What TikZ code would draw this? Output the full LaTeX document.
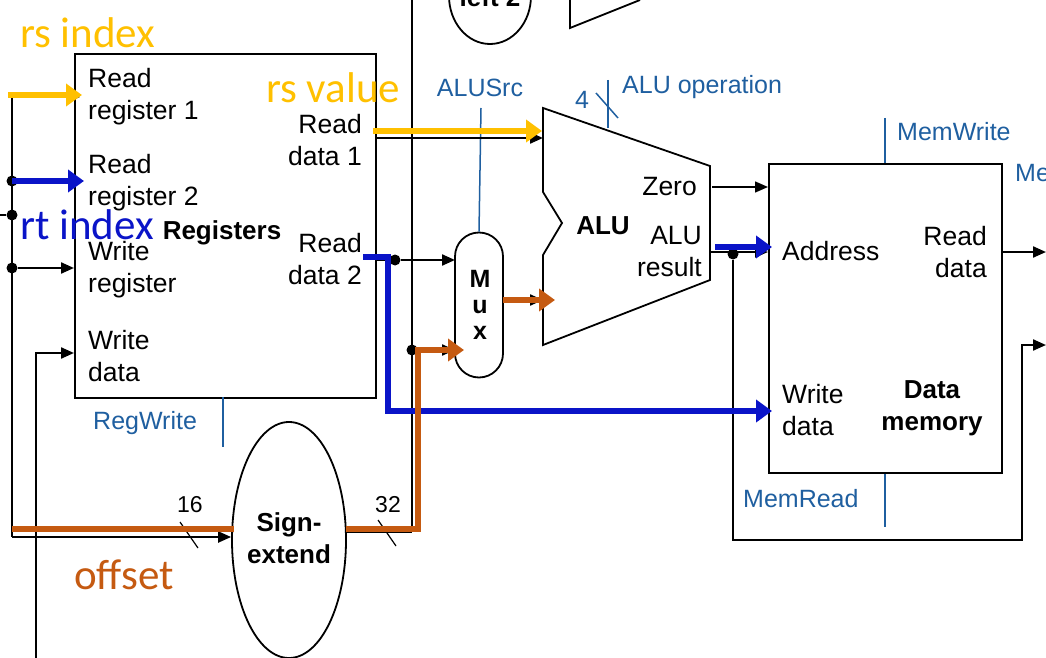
\documentclass[tikz,border=0pt]{standalone}
\usepackage{fontspec}
\setmainfont{Liberation Sans}
\newfontfamily\anno{Carlito}
\usetikzlibrary{arrows.meta,shapes.geometric}
\definecolor{yel}{HTML}{FFC000}
\definecolor{blu}{HTML}{0A14C8}
\definecolor{ora}{HTML}{C55A11}
\definecolor{ctl}{HTML}{1F5FA0}
\begin{document}
\begin{tikzpicture}[x=1pt,y=-1pt,
  txt/.style={font=\fontsize{26.5}{32}\selectfont,inner sep=0pt,align=left},
  txtr/.style={txt,align=right},
  bold/.style={font=\fontsize{26}{32}\selectfont\bfseries,inner sep=0pt,align=center},
  ctlt/.style={font=\fontsize{25}{28}\selectfont,text=ctl,inner sep=0pt},
  ann/.style={font=\anno\fontsize{43}{46}\selectfont,inner sep=0pt},
  wire/.style={line width=2.2pt},
  arr/.style={wire,-{Triangle[length=13pt,width=11pt]}},
  fat/.style={line width=6pt,-{Triangle[length=16pt,width=22pt]}},
  fatl/.style={line width=6pt},
  cline/.style={ctl,line width=1.5pt},
  dot/.style={circle,fill,inner sep=0pt,minimum size=11pt},
  box/.style={draw,line width=2pt}]
\useasboundingbox (0,0) rectangle (1046,658);
% top partial shapes
\node[ellipse,draw,line width=1.8pt,minimum width=82pt,minimum height=96pt] (sh) at (490,-4) {};
\node[bold] (shl) at (490,-3) {left 2};
\coordinate (addA) at (570,0);
\coordinate (addB) at (570,28);
\coordinate (addC) at (640,0);
\draw[line width=1.8pt] (addA) -- (addB) -- (addC);
% registers
\node[box,minimum width=301pt,minimum height=344pt,anchor=north west] (reg) at (74,53) {};
\node[txt,anchor=west] (rr1) at (88,97) {Read\\register 1};
\node[txt,anchor=west] (rr2) at (88,183) {Read\\register 2};
\node[txt,anchor=west] (wr) at (88,270) {Write\\register};
\node[txt,anchor=west] (wd) at (88,356) {Write\\data};
\node[bold] (regt) at (222,233) {Registers};
\node[txtr,anchor=east] (rd1) at (362,140) {Read\\data 1};
\node[txtr,anchor=east] (rd2) at (362,259) {Read\\data 2};
\node[ctlt,anchor=west] (regw) at (93,423) {RegWrite};
\coordinate (rwT) at (223,397); \coordinate (rwB) at (223,447);
\draw[cline] (rwT) -- (rwB);
% left bus
\coordinate (busT) at (12,97); \coordinate (busB) at (12,537);
\draw[wire] (busT) -- (busB);
\node[dot] (d1) at (12,181) {};
\node[dot] (d2) at (12,215) {};
\node[dot] (d3) at (12,268) {};
\coordinate (lin) at (0,215);
\draw[wire] (lin) -- (d2);
\coordinate (r1in) at (12,97); \coordinate (r1e) at (80,97);
\draw[arr] (r1in) -- (r1e);
\coordinate (wrE) at (74,268);
\draw[arr] (d3) -- (wrE);
\coordinate (wdS) at (36,658); \coordinate (wdK) at (36,353); \coordinate (wdE) at (74,353);
\draw[arr] (wdS) -- (wdK) -- (wdE);
% sign extend
\node[ellipse,draw,line width=1.8pt,minimum width=114pt,minimum height=236pt] (se) at (289,540) {};
\node[bold] (set) at (289,538) {Sign-\\extend};
\coordinate (seIn) at (12,537);
\draw[arr] (seIn) -- (se.west |- 0,537);
\coordinate (t16a) at (180,522); \coordinate (t16b) at (198,548);
\draw[line width=1.2pt] (t16a) -- (t16b);
\node[font=\fontsize{23}{26}\selectfont,inner sep=0pt] (n16) at (190,505) {16};
\coordinate (s32) at (345,532); \coordinate (k32) at (412,532);
\draw[wire] (s32) -- (k32);
\coordinate (t32a) at (378,520); \coordinate (t32b) at (396,546);
\draw[line width=1.2pt] (t32a) -- (t32b);
\node[font=\fontsize{23}{26}\selectfont,inner sep=0pt] (n32) at (388,505) {32};
% vertical line x=412
\coordinate (vT) at (412,0);
\draw[wire] (vT) -- (k32);
\node[dot] (d4) at (412,350) {};
% mux
\node[draw,line width=1.8pt,rounded corners=24pt,minimum width=48pt,minimum height=145pt] (mux) at (479,305) {};
\node[bold,align=center,font=\fontsize{25}{26}\selectfont\bfseries] (muxt) at (480,305) {M\\u\\x};
\node[ctlt] (alusrc) at (480,88) {ALUSrc};
\coordinate (asT) at (481,108);
\draw[cline] (asT) -- (mux.north);
\coordinate (m1) at (455,350);
\draw[arr] (d4) -- (m1);
% read data 2
\node[dot] (d5) at (395,260) {};
\coordinate (rd2s) at (375,260); \coordinate (m0) at (455,260);
\draw[wire] (rd2s) -- (d5);
\draw[arr] (d5) -- (m0);
% read data 1
\coordinate (rd1s) at (375,138); \coordinate (alu1) at (543,138);
\draw[arr] (rd1s) -- (alu1);
% ALU
\coordinate (a1) at (543,108); \coordinate (a2) at (710,166); \coordinate (a3) at (710,280);
\coordinate (a4) at (543,345); \coordinate (a5) at (543,255); \coordinate (a6) at (562,223);
\coordinate (a7) at (543,192);
\draw[line width=1.8pt] (a1) -- (a2) -- (a3) -- (a4) -- (a5) -- (a6) -- (a7) -- cycle;
\node[bold] (alut) at (603,226) {ALU};
\node[txtr,anchor=east] (zero) at (697,187) {Zero};
\node[txtr,anchor=east] (alur) at (702,252) {ALU\\result};
\coordinate (muxo) at (503,300); \coordinate (alu2) at (543,300);
\draw[arr] (muxo) -- (alu2);
\coordinate (aopT) at (608,80); \coordinate (aopB) at (608,128);
\draw[cline] (aopT) -- (aopB);
\coordinate (aopa) at (596,93); \coordinate (aopb) at (618,118);
\draw[cline] (aopa) -- (aopb);
\node[ctlt] (four) at (582,100) {4};
\node[ctlt,anchor=west] (aop) at (622,87) {ALU operation};
% data memory
\node[box,minimum width=233pt,minimum height=309pt,anchor=north west] (mem) at (768,163) {};
\node[txt,anchor=west] (addr) at (782,251) {Address};
\node[txtr,anchor=east] (mrd) at (987,252) {Read\\data};
\node[txt,anchor=west] (mwd) at (782,410) {Write\\data};
\node[bold] (memt) at (932,408) {Data\\memory};
\node[ctlt,anchor=west] (memw) at (897,132) {MemWrite};
\coordinate (mwT) at (885,118);
\draw[cline] (mwT) -- (mwT |- mem.north);
\node[ctlt,anchor=west] (me) at (1015,173) {Me};
\node[ctlt,anchor=west] (memr) at (743,499) {MemRead};
\coordinate (mrB) at (885,527);
\draw[cline] (mrB |- mem.south) -- (mrB);
\coordinate (zs) at (712,187); \coordinate (ze) at (768,187);
\draw[arr,line width=1.5pt] (zs) -- (ze);
\coordinate (ars) at (710,252); \coordinate (are) at (768,252);
\draw[arr] (ars) -- (are);
\node[dot] (d6) at (733,254) {};
\coordinate (wb1) at (733,540); \coordinate (wb2) at (1022,540); \coordinate (wb3) at (1022,345); \coordinate (wb4) at (1046,345);
\draw[arr] (d6) -- (wb1) -- (wb2) -- (wb3) -- (wb4);
\coordinate (rdo) at (1046,252);
\draw[arr] (mrd.east -| mem.east) -- (rdo);
% coloured overlays
\coordinate (y1s) at (8,95); \coordinate (y1e) at (82,95);
\draw[fat,yel] (y1s) -- (y1e);
\coordinate (b1s) at (12,181); \coordinate (b1e) at (84,181);
\draw[fat,blu] (b1s) -- (b1e);
\coordinate (y2s) at (373,131); \coordinate (y2e) at (542,131);
\draw[fat,yel] (y2s) -- (y2e);
\coordinate (bl1) at (363,257); \coordinate (bl2) at (388,257); \coordinate (bl3) at (388,411); \coordinate (bl4) at (772,411);
\draw[fat,blu] (bl1) -- (bl2) -- (bl3) -- (bl4);
\coordinate (ab1) at (715,247); \coordinate (ab2) at (772,247);
\draw[fat,blu] (ab1) -- (ab2);
\coordinate (o1) at (12,529); \coordinate (o2) at (234,529);
\draw[fatl,ora] (o1) -- (o2);
\coordinate (o3) at (346,529); \coordinate (o4) at (418,529); \coordinate (o5) at (418,350); \coordinate (o6) at (464,350);
\draw[fat,ora] (o3) -- (o4) -- (o5) -- (o6);
\coordinate (o7) at (503,300); \coordinate (o8) at (555,300);
\draw[fat,ora] (o7) -- (o8);
% annotations
\node[ann,text=yel,anchor=west] (rsi) at (20,33) {rs index};
\node[ann,text=yel,anchor=west] (rsv) at (266,88) {rs value};
\node[ann,text=blu,anchor=west] (rti) at (20,225) {rt index};
\node[ann,text=ora,anchor=west] (off) at (74,575) {offset};
\end{tikzpicture}
\end{document}
